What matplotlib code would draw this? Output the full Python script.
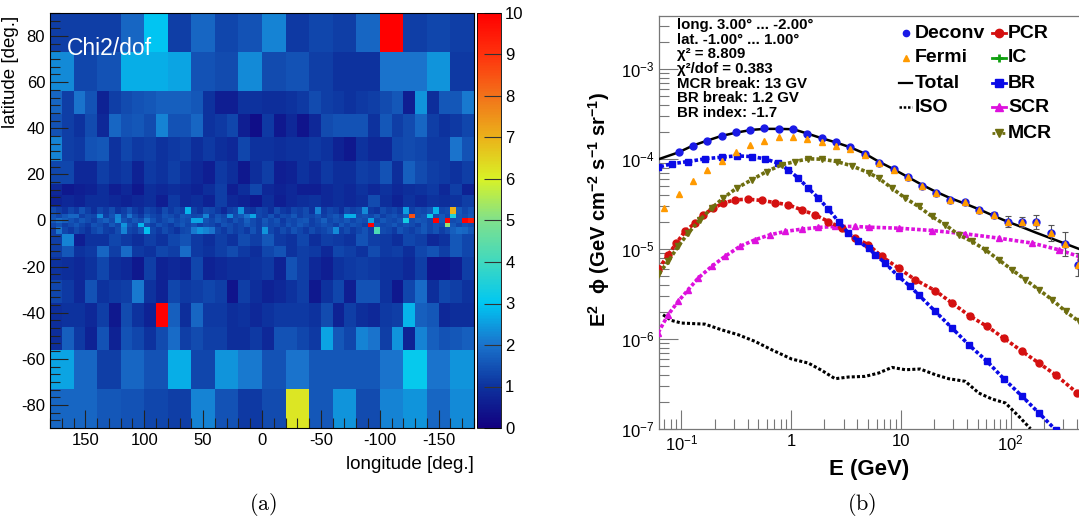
import numpy as np
import matplotlib
matplotlib.use("Agg")
import matplotlib.pyplot as plt
from matplotlib.colors import LinearSegmentedColormap, Normalize
from matplotlib.cm import ScalarMappable
from matplotlib.ticker import MultipleLocator, LogLocator, NullFormatter

plt.rcParams['font.family'] = ['Liberation Sans', 'DejaVu Sans']
plt.rcParams['axes.unicode_minus'] = False
plt.rcParams['mathtext.fontset'] = 'custom'
plt.rcParams['mathtext.rm'] = 'Liberation Sans'
plt.rcParams['mathtext.it'] = 'Liberation Sans:italic'
plt.rcParams['mathtext.bf'] = 'Liberation Sans:bold'

# ---------------------------------------------------------------- sky map data
# latitude band edges (deg); each band has its own longitude binning
lat_edges = [-90, -73, -56, -46, -36, -26, -16, -11, -6, -3, -1, 1, 3, 6, 11, 16, 26, 36, 46, 56, 73, 90]

# chi2/dof per cell, listed from longitude +180 to -180, bands from south to north
chi_m90_m73 = [1.8, 1.8, 1.6, 1.5, 1.3, 1.2, 2.2, 1.5, 1.1, 1.4, 6.2, 1.6, 2.4, 1.4, 2.2, 2.4, 1.8, 2.3]
chi_m73_m56 = [2.6, 1.8, 1.2, 1.8, 1.5, 2.7, 1.3, 2.4, 2.1, 1.5, 2.0, 1.6, 1.6, 1.6, 2.0, 3.1, 2.0, 2.4]
chi_m56_m46 = [0.9, 1.7, 1.1, 0.7, 1.5, 0.7, 1.5, 1.3, 1.0, 1.4, 1.9, 1.2, 1.4, 1.2, 1.2, 0.9, 0.9, 1.1,
               0.8, 1.5, 1.5, 1.3, 1.1, 2.6, 1.6, 1.3, 2.2, 2.0, 1.2, 2.4, 0.7, 2.2, 1.7, 1.5, 1.6, 1.7]
chi_m46_m36 = [0.9, 1.0, 1.0, 0.8, 1.2, 0.5, 1.4, 1.0, 0.7, 10.0, 1.7, 0.9, 1.8, 1.1, 1.1, 0.9, 1.0, 0.8,
               1.0, 1.1, 1.1, 1.1, 1.0, 1.4, 0.7, 1.2, 0.9, 0.8, 1.1, 1.2, 2.8, 1.7, 1.6, 0.8, 0.9, 0.9]
chi_m36_m26 = [1.3, 1.1, 0.8, 1.5, 1.0, 1.1, 1.2, 2.1, 1.0, 0.7, 1.3, 1.1, 1.2, 1.3, 1.2, 0.4, 1.2, 0.9,
               0.7, 0.8, 1.0, 1.2, 0.5, 1.0, 1.3, 0.6, 1.5, 1.5, 1.0, 0.5, 1.3, 1.9, 0.9, 1.3, 1.2, 1.0]
chi_m26_m16 = [1.0, 0.9, 0.8, 1.0, 1.3, 0.9, 0.8, 0.5, 1.2, 0.7, 0.8, 0.7, 1.3, 0.7, 0.8, 0.9, 0.9, 1.0,
               1.1, 0.7, 1.5, 1.2, 0.8, 0.6, 1.0, 1.1, 1.2, 1.1, 1.0, 1.0, 0.8, 1.2, 0.4, 0.4, 0.6, 1.2]
chi_m16_m11 = [1.2, 1.6, 1.0, 1.1, 1.8, 1.2, 1.9, 1.1, 1.0, 1.3, 1.2, 1.9, 1.1, 1.0, 1.2, 1.4, 1.1, 0.9,
               1.3, 1.5, 1.0, 1.2, 1.1, 0.8, 1.3, 1.2, 1.0, 1.4, 1.1, 1.2, 0.9, 1.3, 1.5, 1.2, 1.6, 1.3]
chi_m11_m6 = [1.2, 2.2, 0.6, 1.0, 1.0, 1.3, 1.1, 0.9, 1.2, 1.0, 1.3, 1.5, 1.1, 0.9, 1.2, 1.0, 1.4, 1.2,
              1.6, 1.1, 1.0, 1.3, 0.9, 1.2, 1.1, 1.0, 1.5, 1.2, 1.1, 0.9, 1.3, 1.2, 0.8, 1.0, 1.6, 1.3]
chi_m6_m3 = [1.2, 2.0, 1.3, 1.1, 1.4, 1.2, 1.0, 1.3, 1.5, 1.2, 1.1, 1.4, 2.2, 1.3, 1.2, 1.5, 2.9, 1.3,
             1.1, 1.4, 1.2, 1.0, 1.3, 1.4, 2.1, 2.4, 2.2, 2.0, 1.3, 1.1, 1.4, 1.2, 1.3, 1.1, 1.5, 1.2,
             2.4, 1.3, 1.1, 1.4, 1.2, 1.5, 1.3, 1.1, 1.4, 1.2, 1.3, 1.5, 2.3, 1.2, 1.4, 1.1, 1.3, 1.5,
             1.2, 4.2, 1.4, 1.3, 1.1, 1.5, 1.3, 1.2, 1.4, 1.6, 1.3, 1.5, 1.2, 1.4, 1.7, 1.9, 1.8, 1.6]
chi_m3_m1 = [1.3, 1.5, 1.2, 1.4, 1.6, 1.3, 1.1, 1.5, 1.4, 1.2, 1.6, 1.3, 2.4, 1.5, 1.3, 2.8, 1.4, 1.2,
             1.5, 1.3, 1.1, 1.4, 1.6, 1.3, 1.5, 1.2, 1.4, 1.3, 1.1, 1.5, 1.4, 1.2, 1.3, 1.6, 1.4, 1.2,
             1.5, 1.3, 1.4, 1.2, 1.5, 1.3, 1.6, 1.4, 1.2, 1.3, 1.5, 1.4, 1.2, 1.6, 1.3, 1.5, 1.4, 1.2,
             10.0, 1.5, 1.3, 1.4, 1.6, 1.3, 1.5, 1.4, 1.2, 1.6, 1.3, 1.5, 1.4, 5.2, 1.6, 1.3, 1.5, 1.4]
chi_m1_p1 = [1.6, 1.9, 1.7, 1.5, 1.3, 1.6, 1.4, 1.2, 1.5, 1.7, 1.4, 2.3, 1.5, 1.3, 1.6, 1.4, 2.0, 1.5,
             1.2, 1.4, 1.6, 1.3, 1.5, 1.4, 2.6, 2.6, 1.5, 1.3, 1.6, 1.4, 1.2, 1.5, 1.3, 1.7, 1.4, 1.2,
             1.6, 1.3, 1.5, 1.1, 1.4, 1.3, 1.5, 1.6, 1.2, 1.4, 1.7, 1.3, 1.5, 1.4, 1.6, 1.3, 1.5, 1.4,
             2.5, 1.3, 1.6, 1.4, 1.3, 1.5, 3.3, 1.4, 1.6, 1.5, 1.3, 10.0, 1.6, 10.0, 1.4, 1.5, 10.0, 9.5]
chi_p1_p3 = [1.5, 1.3, 1.6, 1.8, 1.8, 1.2, 1.4, 1.3, 2.3, 1.2, 1.5, 2.2, 1.3, 2.0, 1.4, 1.1, 1.6, 1.3,
             1.2, 1.5, 1.4, 1.2, 1.6, 1.5, 1.3, 1.4, 2.2, 1.2, 1.5, 1.3, 2.3, 1.4, 1.6, 2.0, 2.6, 1.3,
             1.2, 1.5, 1.1, 1.4, 1.3, 1.6, 1.2, 1.4, 1.3, 1.5, 1.2, 1.4, 1.6, 1.3, 2.7, 2.7, 1.4, 1.5,
             1.3, 1.6, 1.2, 1.4, 1.5, 1.3, 1.6, 8.5, 1.4, 1.5, 3.2, 1.4, 1.6, 1.3, 3.5, 1.5, 1.4, 1.6]
chi_p3_p6 = [1.4, 1.2, 1.0, 1.3, 1.1, 1.5, 1.2, 0.9, 1.3, 1.1, 1.4, 1.0, 1.2, 1.5, 1.1, 0.9, 1.3, 1.2,
             1.0, 1.4, 1.1, 1.3, 1.2, 2.8, 1.2, 1.0, 1.4, 1.3, 1.1, 0.8, 1.2, 1.3, 2.4, 1.1, 1.0, 1.3,
             1.2, 0.9, 1.4, 1.1, 1.0, 1.3, 1.2, 1.4, 1.0, 2.2, 1.1, 1.3, 1.2, 0.9, 1.4, 1.2, 1.3, 2.3,
             1.1, 1.0, 1.4, 1.2, 1.3, 1.1, 2.5, 1.2, 1.4, 1.3, 1.5, 2.8, 1.3, 1.4, 7.0, 1.6, 1.3, 1.5]
chi_p6_p11 = [0.7, 0.8, 0.7, 0.9, 0.9, 0.8, 0.7, 0.8, 0.9, 0.6, 1.1, 0.8, 0.9, 0.7, 1.2, 0.8, 0.7, 0.5,
              0.9, 0.6, 0.8, 0.9, 1.0, 0.8, 0.9, 0.8, 0.9, 1.4, 0.9, 0.7, 1.0, 0.8, 1.0, 0.9, 1.0, 1.2]
chi_p11_p16 = [0.8, 0.5, 0.6, 0.7, 0.9, 0.6, 0.8, 0.5, 0.9, 0.8, 0.9, 0.8, 0.7, 0.9, 1.2, 0.6, 0.9, 1.3,
               0.8, 0.7, 0.8, 0.6, 0.6, 0.8, 0.9, 0.8, 1.0, 0.8, 1.0, 0.8, 0.9, 1.0, 1.1, 0.8, 1.2, 0.7]
chi_p16_p26 = [1.3, 1.3, 0.8, 0.8, 1.2, 1.0, 1.1, 0.7, 1.1, 1.0, 1.2, 1.0, 0.8, 0.6, 1.1, 0.9, 0.5, 0.9,
               1.2, 0.6, 0.7, 1.0, 0.8, 1.1, 0.9, 0.9, 1.2, 1.1, 1.5, 0.9, 1.7, 1.4, 1.2, 1.1, 1.0, 1.2]
chi_p26_p36 = [2.2, 1.2, 1.1, 1.5, 1.6, 1.0, 1.3, 1.1, 1.2, 1.0, 1.1, 1.2, 0.9, 1.1, 0.9, 0.8, 1.3, 1.0,
               1.0, 0.9, 1.0, 1.0, 1.1, 1.0, 0.7, 0.5, 1.0, 0.8, 0.8, 1.3, 1.4, 1.3, 1.1, 1.1, 2.0, 1.5]
chi_p36_p46 = [1.5, 1.2, 1.0, 1.4, 0.8, 1.8, 1.5, 1.6, 1.4, 2.2, 1.5, 1.5, 1.8, 1.0, 1.1, 1.3, 0.6, 0.3,
               1.1, 0.5, 0.8, 0.4, 0.8, 1.4, 1.5, 1.5, 1.5, 1.0, 1.6, 1.2, 1.4, 1.8, 1.2, 1.0, 1.1, 1.3]
chi_p46_p56 = [1.8, 1.2, 2.0, 1.5, 0.7, 1.2, 1.4, 1.5, 1.6, 1.7, 1.7, 1.7, 1.6, 1.0, 0.6, 0.6, 1.0, 1.0,
               0.9, 0.9, 1.0, 1.1, 1.4, 1.2, 1.1, 1.0, 1.1, 1.2, 1.4, 1.6, 0.6, 2.4, 0.9, 1.6, 1.6, 2.1]
chi_p56_p73 = [2.3, 1.3, 1.5, 2.7, 2.7, 2.6, 1.5, 1.4, 2.3, 1.4, 1.5, 1.2, 1.0, 1.0, 2.0, 2.0, 2.4, 1.1]
chi_p73_p90 = [1.2, 1.2, 1.2, 1.8, 3.0, 1.2, 1.8, 1.3, 1.5, 2.2, 1.1, 1.3, 1.2, 1.8, 10.0, 1.2, 1.3, 1.2]

chi_bands = [chi_m90_m73, chi_m73_m56, chi_m56_m46, chi_m46_m36, chi_m36_m26, chi_m26_m16,
             chi_m16_m11, chi_m11_m6, chi_m6_m3, chi_m3_m1, chi_m1_p1, chi_p1_p3, chi_p3_p6,
             chi_p6_p11, chi_p11_p16, chi_p16_p26, chi_p26_p36, chi_p36_p46, chi_p46_p56,
             chi_p56_p73, chi_p73_p90]

# ---------------------------------------------------------------- spectrum data (log10 E [GeV], log10 E^2 phi)
logE_data = [-1.025, -0.894, -0.766, -0.635, -0.507, -0.376, -0.245, -0.111, 0.014, 0.148, 0.278, 0.409,
             0.537, 0.668, 0.796, 0.933, 1.061, 1.192, 1.322, 1.450, 1.581, 1.715, 1.846, 1.974, 2.105,
             2.232, 2.364, 2.495, 2.616]
logF_deconv = [-3.922, -3.852, -3.796, -3.741, -3.700, -3.674, -3.656, -3.663, -3.663, -3.719, -3.767,
               -3.811, -3.870, -3.941, -4.037, -4.111, -4.193, -4.296, -4.371, -4.452, -4.474, -4.563,
               -4.619, -4.693, -4.700, -4.700, -4.822, -4.944, -5.174]
err_deconv = [0, 0, 0, 0, 0, 0, 0, 0, 0, 0, 0, 0, 0, 0, 0, 0, 0, 0, 0.01, 0.012, 0.015, 0.02, 0.03,
              0.056, 0.056, 0.074, 0.093, 0.13, 0.13]

logE_fermi = [-1.161] + logE_data
logF_fermi = [-4.545, -4.389, -4.241, -4.119, -4.015, -3.922, -3.841, -3.796, -3.756, -3.748, -3.774,
              -3.811, -3.852, -3.889, -3.952, -4.040, -4.115, -4.195, -4.298, -4.373, -4.454, -4.476,
              -4.565, -4.621, -4.695, -4.702, -4.702, -4.824, -4.946, -5.176]

logE_total = [-1.244, -1.031, -0.894, -0.772, -0.635, -0.498, -0.361, -0.239, -0.117, 0.020, 0.157,
              0.278, 0.400, 0.537, 0.674, 0.796, 0.933, 1.055, 1.192, 1.313, 1.450, 1.587, 1.709,
              1.846, 1.968, 2.105, 2.227, 2.364, 2.501, 2.628]
logF_total = [-4.015, -3.926, -3.848, -3.796, -3.741, -3.704, -3.674, -3.663, -3.663, -3.667, -3.719,
              -3.767, -3.811, -3.867, -3.940, -4.026, -4.111, -4.193, -4.285, -4.359, -4.433, -4.496,
              -4.556, -4.630, -4.693, -4.756, -4.815, -4.878, -4.941, -5.000]

logE_br = [-1.244, -1.213, -1.091, -0.939, -0.787, -0.635, -0.498, -0.361, -0.239, -0.117, -0.026,
           0.065, 0.156, 0.248, 0.339, 0.431, 0.522, 0.613, 0.705, 0.765, 0.857, 0.978, 1.085, 1.161,
           1.313, 1.466, 1.618, 1.785, 1.937, 2.105, 2.257, 2.409]
logF_br = [-4.095, -4.089, -4.052, -4.026, -3.996, -3.978, -3.963, -3.971, -3.996, -4.045, -4.119,
           -4.211, -4.322, -4.433, -4.556, -4.693, -4.822, -4.915, -4.990, -5.060, -5.156, -5.304,
           -5.415, -5.508, -5.693, -5.878, -6.063, -6.248, -6.441, -6.637, -6.822, -7.008]

logE_pcr = [-1.244, -1.213, -1.122, -1.046, -0.970, -0.878, -0.802, -0.711, -0.620, -0.513, -0.391,
            -0.270, -0.148, -0.026, 0.095, 0.217, 0.339, 0.461, 0.583, 0.704, 0.826, 0.978, 1.131,
            1.313, 1.466, 1.633, 1.785, 1.937, 2.105, 2.257, 2.409, 2.607]
logF_pcr = [-5.260, -5.230, -5.063, -4.933, -4.804, -4.711, -4.619, -4.545, -4.489, -4.452, -4.445,
            -4.459, -4.482, -4.508, -4.563, -4.619, -4.693, -4.767, -4.878, -4.952, -5.082, -5.211,
            -5.341, -5.462, -5.600, -5.748, -5.859, -5.989, -6.137, -6.267, -6.397, -6.600]

logE_mcr = [-1.244, -1.213, -1.122, -1.031, -0.939, -0.833, -0.726, -0.620, -0.498, -0.361, -0.224,
            -0.087, 0.035, 0.157, 0.278, 0.415, 0.552, 0.705, 0.796, 0.918, 1.039, 1.161, 1.283,
            1.405, 1.526, 1.648, 1.770, 1.892, 2.013, 2.135, 2.257, 2.379, 2.501, 2.622]
logF_mcr = [-5.310, -5.285, -5.137, -4.970, -4.822, -4.674, -4.545, -4.433, -4.322, -4.230, -4.137,
            -4.063, -4.026, -3.996, -4.000, -4.026, -4.074, -4.150, -4.211, -4.322, -4.433, -4.526,
            -4.637, -4.730, -4.841, -4.915, -5.008, -5.119, -5.230, -5.341, -5.452, -5.563, -5.693,
            -5.804]

logE_scr = [-1.244, -1.213, -1.122, -1.031, -0.939, -0.848, -0.726, -0.605, -0.468, -0.330, -0.194,
            -0.057, 0.095, 0.248, 0.400, 0.583, 0.705, 0.978, 1.283, 1.587, 1.892, 2.196, 2.440, 2.630]
logF_scr = [-5.980, -5.930, -5.730, -5.582, -5.452, -5.322, -5.193, -5.082, -4.970, -4.896, -4.841,
            -4.804, -4.778, -4.759, -4.748, -4.748, -4.756, -4.767, -4.793, -4.830, -4.878, -4.933,
            -5.008, -5.085]

logE_iso = [-1.168, -1.092, -1.000, -0.787, -0.635, -0.483, -0.330, -0.178, 0.004, 0.156, 0.278, 0.400,
            0.522, 0.674, 0.796, 0.918, 1.040, 1.176, 1.313, 1.435, 1.587, 1.709, 1.831, 1.953, 2.074,
            2.181]
logF_iso = [-5.730, -5.793, -5.822, -5.834, -5.897, -5.952, -6.026, -6.119, -6.222, -6.267, -6.348,
            -6.441, -6.422, -6.415, -6.378, -6.315, -6.341, -6.333, -6.396, -6.441, -6.470, -6.600,
            -6.667, -6.711, -6.859, -6.997]

info_lines = [u"long. 3.00\u00b0 ... -2.00\u00b0", u"lat. -1.00\u00b0 ... 1.00\u00b0",
              u"\u03c7\u00b2 = 8.809", u"\u03c7\u00b2/dof = 0.383", "MCR break: 13 GV",
              "BR break: 1.2 GV", "BR index: -1.7"]

# ---------------------------------------------------------------- figure
W, H = 1079, 520
fig = plt.figure(figsize=(W / 100, H / 100), dpi=100)


def box(x0, y0, x1, y1):
    return [x0 / W, 1 - y1 / H, (x1 - x0) / W, (y1 - y0) / H]


rainbow = LinearSegmentedColormap.from_list("rainbow_root", [
    (0.00, (0.07, 0.00, 0.50)), (0.10, (0.05, 0.20, 0.62)), (0.20, (0.10, 0.45, 0.80)),
    (0.30, (0.00, 0.78, 0.95)), (0.40, (0.25, 0.85, 0.75)), (0.50, (0.50, 0.88, 0.55)),
    (0.60, (0.85, 0.95, 0.15)), (0.70, (0.92, 0.70, 0.10)), (0.80, (0.95, 0.45, 0.10)),
    (0.90, (1.00, 0.20, 0.05)), (1.00, (1.00, 0.00, 0.00))])
norm = Normalize(0, 10)

# ---------------------------------------------------------------- chi2/dof sky map
axm = fig.add_axes(box(50, 13, 474, 428))
for i, vals in enumerate(chi_bands):
    lon = np.linspace(180, -180, len(vals) + 1)
    axm.pcolormesh(lon, [lat_edges[i], lat_edges[i + 1]], np.array([vals]),
                   cmap=rainbow, norm=norm, shading='flat', edgecolors='none', antialiased=False)
axm.set_xlim(180, -180)
axm.set_ylim(-90, 90)
axm.xaxis.set_major_locator(MultipleLocator(50))
axm.xaxis.set_minor_locator(MultipleLocator(10))
axm.yaxis.set_major_locator(MultipleLocator(20))
axm.yaxis.set_minor_locator(MultipleLocator(10 / 3))
axm.tick_params(which='both', direction='in', labelsize=12, top=False, right=False, color='#222222')
axm.tick_params(which='major', length=13, width=0.8)
axm.tick_params(which='minor', length=7, width=0.8)
axm.set_xlabel("longitude [deg.]", fontsize=13.5, loc='right', labelpad=6)
axm.set_ylabel("latitude [deg.]", fontsize=13.5)
axm.yaxis.set_label_coords((19 - 50) / 424, (428 - 72) / 415)
axm.text(0.04, 0.915, "Chi2/dof", transform=axm.transAxes, color='white', fontsize=16.5,
         ha='left', va='center')
for s in axm.spines.values():
    s.set_linewidth(0.8)

cax = fig.add_axes(box(477, 13, 501, 428))
cb = fig.colorbar(ScalarMappable(norm=norm, cmap=rainbow), cax=cax)
cb.set_ticks(range(0, 11))
cb.outline.set_linewidth(0.6)
cax.tick_params(direction='in', length=12, width=0.8, labelsize=12, color='#333333', pad=3)

# ---------------------------------------------------------------- spectrum panel
X0, Y0, X1, Y1 = 659, 16, 1080, 429
axs = fig.add_axes(box(X0, Y0, X1, Y1))
axs.set_xscale('log')
axs.set_yscale('log')
axs.set_xlim(10 ** -1.205, 10 ** 2.632)
axs.set_ylim(1e-7, 10 ** -2.408)


def pw(v):
    return 10 ** np.asarray(v, dtype=float)


# model components: dense marker chains along the curves
components = [
    (logE_iso, logF_iso, 'black', None, 0, (0, (1.0, 0.7)), 2.2),
    (logE_scr, logF_scr, '#dd11dd', '^', 4.5, (0, (1.0, 0.6)), 2.6),
    (logE_pcr, logF_pcr, '#d41010', 'o', 5.0, (0, (1.0, 0.6)), 2.6),
    (logE_br, logF_br, '#0a0ae6', 's', 4.5, (0, (1.0, 0.6)), 2.6),
    (logE_mcr, logF_mcr, '#6e6e10', 'v', 5.0, (0, (1.0, 0.6)), 2.6),
]
for le, lf, col, mk, ms, ls, lw in components:
    axs.plot(pw(le), pw(lf), color=col, lw=lw, ls=ls, dash_capstyle='butt', zorder=3)
    if mk is not None:
        axs.plot(pw(le), pw(lf), ls='none', marker=mk, ms=ms, color=col, mec=col, zorder=3)

axs.plot(pw(logE_total), pw(logF_total), color='black', lw=1.8, zorder=4)

F_dec = pw(logF_deconv)
err = np.asarray(err_deconv)
lo = F_dec - F_dec / 10 ** err
hi = F_dec * 10 ** err - F_dec
axs.errorbar(pw(logE_data), F_dec, yerr=[lo, hi], fmt='none', ecolor='#555555', elinewidth=0.8,
             capsize=2, capthick=0.8, zorder=5)
axs.plot(pw(logE_data), F_dec, ls='none', marker='o', ms=5, color='#1a1ae6', zorder=6)
axs.plot(pw(logE_fermi), pw(logF_fermi), ls='none', marker='^', ms=4, color='#ff9a00', zorder=7)

axs.xaxis.set_major_locator(LogLocator(base=10, numticks=10))
axs.xaxis.set_minor_locator(LogLocator(base=10, subs=np.arange(2, 10), numticks=20))
axs.yaxis.set_major_locator(LogLocator(base=10, numticks=10))
axs.yaxis.set_minor_locator(LogLocator(base=10, subs=np.arange(2, 10), numticks=20))
axs.xaxis.set_minor_formatter(NullFormatter())
axs.yaxis.set_minor_formatter(NullFormatter())


def xfmt(v, pos):
    e = int(round(np.log10(v)))
    if e == 0:
        return "1"
    if e == 1:
        return "10"
    return r"$10^{%d}$" % e


axs.xaxis.set_major_formatter(plt.FuncFormatter(xfmt))
axs.yaxis.set_major_formatter(plt.FuncFormatter(lambda v, p: r"$10^{%d}$" % int(round(np.log10(v)))))
axs.tick_params(which='both', direction='in', top=False, right=False, labelsize=12, color='#777777')
axs.tick_params(which='major', length=14, width=0.8)
axs.tick_params(which='minor', length=7, width=0.8)
for s in axs.spines.values():
    s.set_color('#777777')
    s.set_linewidth(0.9)

axs.set_xlabel("E (GeV)", fontsize=16, fontweight='bold', labelpad=4)
axs.set_ylabel(r"$\mathbf{E^{2}}$  $\mathbf{\phi}$ $\mathbf{(GeV\ cm^{-2}\ s^{-1}\ sr^{-1})}$",
               fontsize=14.5)
axs.yaxis.set_label_coords((612 - X0) / (X1 - X0), (Y1 - 209) / (Y1 - Y0))


def ax_frac(px, py):
    return (px - X0) / (X1 - X0), 1 - (py - Y0) / (Y1 - Y0)


# fit summary text
for k, line in enumerate(info_lines):
    xf, yf = ax_frac(677, 25 + 14.7 * k)
    axs.text(xf, yf, line, transform=axs.transAxes, fontsize=10.8, fontweight='bold',
             ha='left', va='center', zorder=8)

# legend, two columns
left_col = [("Deconv", dict(marker='o', ms=4.5, color='#1a1ae6', ls='none')),
            ("Fermi", dict(marker='^', ms=4, color='#ff9a00', ls='none')),
            ("Total", dict(color='black', lw=1.6)),
            ("ISO", dict(color='black', lw=1.8, ls=(0, (1, 0.7))))]
right_col = [("PCR", dict(marker='o', ms=6, color='#d41010', lw=2)),
             ("IC", dict(marker='+', ms=6, mew=2, color='#10a010', lw=2)),
             ("BR", dict(marker='s', ms=6, color='#0a0ae6', lw=2)),
             ("SCR", dict(marker='^', ms=6, color='#dd11dd', lw=2)),
             ("MCR", dict(marker='v', ms=6, color='#6e6e10', lw=2, ls=(0, (1, 0.8))))]
rows_y = [33, 58, 83, 107, 133]
for k, (name, st) in enumerate(left_col):
    x0, y0 = ax_frac(899, rows_y[k])
    x1, _ = ax_frac(912, rows_y[k])
    if st.get('ls') == 'none':
        axs.plot([(x0 + x1) / 2], [y0], transform=axs.transAxes, clip_on=False, **st)
    else:
        axs.plot([x0, x1], [y0, y0], transform=axs.transAxes, clip_on=False, **st)
    tx, _ = ax_frac(915, rows_y[k])
    axs.text(tx, y0, name, transform=axs.transAxes, fontsize=14, fontweight='bold',
             ha='left', va='center')
for k, (name, st) in enumerate(right_col):
    x0, y0 = ax_frac(992, rows_y[k])
    x1, _ = ax_frac(1006, rows_y[k])
    axs.plot([x0, x1], [y0, y0], transform=axs.transAxes, clip_on=False,
             **{kk: vv for kk, vv in st.items() if kk not in ('marker', 'ms', 'mew')})
    axs.plot([(x0 + x1) / 2], [y0], transform=axs.transAxes, clip_on=False, ls='none',
             marker=st['marker'], ms=st['ms'], mew=st.get('mew', 1), color=st['color'])
    tx, _ = ax_frac(1008, rows_y[k])
    axs.text(tx, y0, name, transform=axs.transAxes, fontsize=14, fontweight='bold',
             ha='left', va='center')

# sub-figure captions
fig.text(263 / W, 1 - 505 / H, r"$(\mathrm{a})$", fontsize=16, ha='center', va='center',
         math_fontfamily='cm')
fig.text(862 / W, 1 - 505 / H, r"$(\mathrm{b})$", fontsize=16, ha='center', va='center',
         math_fontfamily='cm')

fig.savefig("out.png", dpi=100)
